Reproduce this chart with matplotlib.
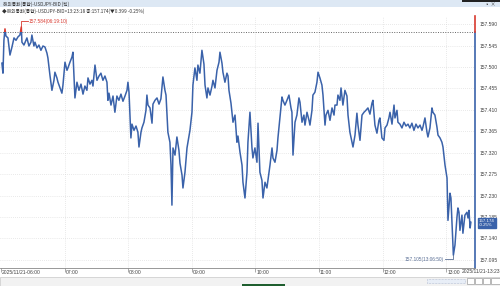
import numpy as np
import matplotlib.pyplot as plt
import matplotlib.transforms as mt
from matplotlib.patches import Rectangle

# tick chart USDJPY BID, time in minutes after 06:00
minutes = [0.9, 1.9, 2.8, 3.8, 4.7, 6.6, 8.5, 10.4, 12.3, 14.2, 16.0, 17.9, 19.2, 19.8, 21.7,
           23.6, 24.5, 26.4, 28.3, 29.2, 31.1, 32.1, 34.0, 35.8, 37.7, 39.6, 41.5, 43.4, 44.3,
           46.2, 48.1, 50.0, 50.9, 52.8, 53.8, 55.7, 57.5, 58.5, 60.4, 62.3, 63.2, 65.1, 67.0,
           67.9, 68.9, 69.8, 71.7, 73.6, 75.5, 77.4, 79.2, 81.1, 82.1, 84.0, 85.8, 86.8, 88.7,
           90.6, 92.5, 94.3, 96.2, 98.1, 100.0, 100.9, 101.9, 103.8, 105.7, 107.5, 109.4, 111.3,
           113.2, 115.1, 117.0, 118.9, 119.8, 120.8, 122.6, 123.6, 125.5, 127.4, 129.2, 130.2,
           132.1, 133.0, 134.9, 136.8, 137.7, 138.7, 140.6, 142.5, 143.4, 145.3, 147.2, 149.1,
           150.9, 152.8, 154.7, 155.7, 157.5, 159.4, 160.4, 161.3, 162.3, 164.2, 166.0, 167.9,
           168.9, 170.8, 171.7, 173.6, 175.5, 176.4, 178.3, 180.2, 181.1, 183.0, 184.9, 185.8,
           187.7, 189.6, 191.5, 192.5, 194.3, 195.3, 197.2, 199.1, 200.0, 201.9, 203.8, 205.7,
           206.6, 208.5, 209.4, 211.3, 213.2, 214.2, 215.1, 217.0, 218.9, 220.8, 222.6, 223.6,
           225.5, 227.4, 228.3, 230.2, 232.1, 233.0, 234.9, 236.8, 237.7, 239.6, 241.5, 242.5,
           244.3, 246.2, 247.2, 249.1, 250.9, 251.9, 253.8, 255.7, 256.6, 258.5, 260.4, 261.3,
           263.2, 265.1, 266.0, 267.9, 269.8, 271.7, 273.6, 274.5, 275.5, 277.4, 279.2, 281.1,
           282.1, 284.0, 285.8, 286.8, 288.7, 290.6, 291.5, 293.4, 294.3, 296.2, 298.1, 299.1,
           300.9, 302.8, 303.8, 305.7, 306.6, 308.5, 310.4, 312.3, 314.2, 315.1, 317.0, 317.9,
           319.8, 320.8, 322.6, 324.5, 326.4, 327.4, 329.2, 331.1, 332.1, 334.0, 335.8, 336.8,
           338.7, 340.6, 342.5, 344.3, 346.2, 348.1, 350.0, 350.9, 352.8, 354.7, 356.6, 357.5,
           359.4, 361.3, 362.3, 364.2, 366.0, 367.0, 368.9, 370.8, 371.7, 373.6, 374.5, 376.4,
           378.3, 380.2, 382.1, 384.0, 385.8, 387.7, 389.6, 391.5, 393.4, 395.3, 397.2, 398.1,
           400.0, 401.9, 402.8, 404.7, 406.6, 407.5, 409.4, 411.3, 412.3, 414.2, 416.0, 417.0,
           418.9, 420.8, 421.7, 423.6, 424.5, 426.4, 426.8, 428.3, 430.2, 431.1, 432.1, 433.0,
           434.9, 435.8, 437.7, 439.6, 440.6, 441.5, 442.6, 443.3]
prices = [157.508, 157.487, 157.556, 157.580, 157.565, 157.561, 157.525, 157.542, 157.561,
          157.556, 157.563, 157.567, 157.584, 157.552, 157.546, 157.556, 157.561, 157.544,
          157.552, 157.567, 157.544, 157.552, 157.540, 157.546, 157.535, 157.544, 157.542,
          157.529, 157.519, 157.483, 157.451, 157.472, 157.489, 157.477, 157.468, 157.456,
          157.445, 157.462, 157.510, 157.493, 157.498, 157.510, 157.521, 157.531, 157.483,
          157.435, 157.468, 157.451, 157.464, 157.443, 157.460, 157.451, 157.477, 157.464,
          157.472, 157.460, 157.504, 157.472, 157.481, 157.487, 157.472, 157.481, 157.468,
          157.430, 157.445, 157.420, 157.439, 157.405, 157.439, 157.430, 157.443, 157.428,
          157.439, 157.451, 157.468, 157.447, 157.351, 157.380, 157.367, 157.376, 157.363,
          157.332, 157.363, 157.372, 157.384, 157.409, 157.441, 157.420, 157.414, 157.382,
          157.422, 157.430, 157.435, 157.422, 157.433, 157.479, 157.451, 157.441, 157.363,
          157.342, 157.294, 157.210, 157.330, 157.315, 157.353, 157.325, 157.298, 157.273,
          157.246, 157.279, 157.330, 157.342, 157.367, 157.405, 157.462, 157.498, 157.472,
          157.504, 157.487, 157.535, 157.506, 157.462, 157.435, 157.456, 157.441, 157.460,
          157.472, 157.456, 157.493, 157.510, 157.531, 157.508, 157.489, 157.468, 157.487,
          157.481, 157.451, 157.424, 157.384, 157.399, 157.342, 157.355, 157.321, 157.294,
          157.258, 157.225, 157.279, 157.342, 157.405, 157.330, 157.309, 157.330, 157.300,
          157.382, 157.279, 157.262, 157.225, 157.258, 157.246, 157.262, 157.294, 157.330,
          157.309, 157.300, 157.325, 157.351, 157.393, 157.437, 157.430, 157.420, 157.430,
          157.441, 157.414, 157.405, 157.315, 157.384, 157.399, 157.435, 157.426, 157.384,
          157.399, 157.378, 157.405, 157.388, 157.378, 157.409, 157.441, 157.447, 157.468,
          157.489, 157.477, 157.462, 157.441, 157.378, 157.399, 157.409, 157.388, 157.414,
          157.399, 157.420, 157.420, 157.441, 157.430, 157.456, 157.420, 157.451, 157.439,
          157.399, 157.363, 157.342, 157.332, 157.357, 157.403, 157.378, 157.346, 157.399,
          157.405, 157.409, 157.414, 157.401, 157.424, 157.430, 157.378, 157.361, 157.388,
          157.393, 157.351, 157.346, 157.372, 157.378, 157.393, 157.405, 157.380, 157.420,
          157.393, 157.409, 157.384, 157.380, 157.372, 157.384, 157.376, 157.380, 157.372,
          157.382, 157.367, 157.380, 157.372, 157.378, 157.367, 157.374, 157.393, 157.363,
          157.353, 157.372, 157.414, 157.405, 157.399, 157.374, 157.357, 157.351, 157.342,
          157.332, 157.294, 157.267, 157.178, 157.235, 157.225, 157.122, 157.105, 157.126,
          157.185, 157.204, 157.195, 157.157, 157.189, 157.151, 157.189, 157.195, 157.183,
          157.199, 157.162, 157.174]

prev_close = 157.573
hi_time, hi_price, hi_label = 19.2, 157.584, "157.584(06:19:10)"
lo_time, lo_price, lo_label = 426.8, 157.105, "157.105(13:06:50)"
last_price = 157.174
last_change = "-0.25%"

y_ticks = [157.095, 157.140, 157.185, 157.230, 157.275, 157.320,
           157.365, 157.410, 157.455, 157.500, 157.545, 157.590]
x_ticks = [0, 60, 120, 180, 240, 300, 360, 420]
x_labels = ["2025/11/21-06:00", "07:00", "08:00", "09:00", "10:00", "11:00", "12:00", "13:00"]
end_label = "2025/11/21-13:23"
title1 = "해외통화(통합)-USDJPY-BID (틱)"
title2 = "◆해외통화(통합)-USDJPY-BID>13:23:18 종:157.174(▼0.399 -0.25%)"

BLUE = "#3a62aa"
RED = "#d8392f"
TXT = "#444444"
plt.rcParams['font.family'] = ['Liberation Sans', 'DejaVu Sans']
KR = ['Noto Sans CJK KR', 'DejaVu Sans']

W, H = 500, 286
fig = plt.figure(figsize=(W / 100, H / 100), dpi=100)
fig.patch.set_facecolor("white")

ax = fig.add_axes([0, 18 / H, 475 / W, 252 / H])
xmin, xmax = -0.9, 447.2
ymin, ymax = 157.078, 157.607
ax.set_xlim(xmin, xmax)
ax.set_ylim(ymin, ymax)

# price line: red above previous close, blue below
lb, = ax.plot(minutes, prices, color=BLUE, lw=1.1, zorder=3)
lr, = ax.plot(minutes, prices, color=RED, lw=1.1, zorder=3)
clip_b = Rectangle((xmin, ymin), xmax - xmin, prev_close - ymin, transform=ax.transData)
clip_r = Rectangle((xmin, prev_close), xmax - xmin, ymax - prev_close, transform=ax.transData)
lb.set_clip_path(clip_b)
lr.set_clip_path(clip_r)

ax.axhline(prev_close, color="#666666", lw=0.7, ls=(0, (1, 1.5)), zorder=2)

# grid
for t in y_ticks:
    ax.axhline(t, color="#d4d4d4", lw=0.5, ls=(0, (1, 2)), zorder=1)
for t in x_ticks[1:]:
    ax.axvline(t, color="#d4d4d4", lw=0.5, ls=(0, (1, 2)), zorder=1)

for s in ["top", "left", "right"]:
    ax.spines[s].set_visible(False)
ax.spines["bottom"].set_color("#888888")
ax.spines["bottom"].set_linewidth(0.6)
ax.plot([1, 1], [ymin, prev_close], transform=ax.get_yaxis_transform(), color=BLUE, lw=1.2, clip_on=False)
ax.plot([1, 1], [prev_close, ymax], transform=ax.get_yaxis_transform(), color=RED, lw=1.2, clip_on=False)

ax.yaxis.tick_right()
ax.set_yticks(y_ticks)
ax.set_yticklabels([f"{t:.3f}" for t in y_ticks], fontsize=3.6, color=TXT)
ax.tick_params(axis="y", length=0, pad=3)
ax.set_xticks(x_ticks)
ax.set_xticklabels(x_labels, fontsize=3.6, color=TXT, ha="left")
ax.tick_params(axis="x", length=3, width=0.5, color="#888888", pad=-1.6)
off = mt.ScaledTranslation(1 / 100, 0, fig.dpi_scale_trans)
for lab in ax.get_xticklabels():
    lab.set_transform(lab.get_transform() + off)

# high / low markers
ax.plot([hi_time, hi_time, hi_time + 6], [hi_price, hi_price + 0.012, hi_price + 0.012],
        color=RED, lw=0.6, zorder=4)
ax.text(hi_time + 7, hi_price + 0.012, hi_label, color=RED, fontsize=3.4, va="center", ha="left")
ax.plot([lo_time, lo_time, lo_time - 8], [lo_price, lo_price - 0.009, lo_price - 0.009],
        color="#5a6f95", lw=0.6, zorder=4)
ax.text(lo_time - 9, lo_price - 0.009, lo_label, color="#5a6f95", fontsize=3.4, va="center", ha="right")

# current price box on the axis
ax.text(1.008, last_price - 0.002, f"{last_price:.3f}\n{last_change}", transform=ax.get_yaxis_transform(),
        fontsize=3.2, color="white", va="center", ha="left", linespacing=0.9, zorder=5,
        bbox=dict(boxstyle="square,pad=0.25", fc=BLUE, ec=BLUE), clip_on=False)

fig.text(462 / W, 1 - 271.5 / H, end_label, fontsize=3.6, color=TXT, ha="left", va="center")

# header
fig.patches.append(Rectangle((0, 1 - 7 / H), 1, 7 / H, transform=fig.transFigure,
                             fc="#dde8f4", ec="none"))
fig.patches.append(Rectangle((462 / W, 1 - 2 / H), 38 / W, 2 / H, transform=fig.transFigure,
                             fc="#222222", ec="none"))
fig.text(3 / W, 1 - 4 / H, title1, fontsize=3.4, color="#333333", family=KR, va="center")
fig.text(2 / W, 1 - 11.5 / H, title2, fontsize=3.4, color="#333333", family=KR, va="center")
fig.text(490 / W, 1 - 4 / H, "▫ ×", fontsize=3.4, color="#333333", family=KR, va="center", ha="center")

# bottom scroll bar
fig.patches.append(Rectangle((0, 0), 1, 9 / H, transform=fig.transFigure, fc="#f2f2f2", ec="#c8c8c8", lw=0.5))
fig.patches.append(Rectangle((427 / W, 3 / H), 38 / W, 4 / H, transform=fig.transFigure,
                             fc="#e8eef7", ec="#8899bb", lw=0.4, ls=":"))
for bx in [467, 475, 483]:
    fig.patches.append(Rectangle((bx / W, 2 / H), 7 / W, 6 / H, transform=fig.transFigure,
                                 fc="#ffffff", ec="#888888", lw=0.4))
fig.patches.append(Rectangle((491 / W, 2 / H), 9 / W, 6 / H, transform=fig.transFigure,
                             fc="#ffffff", ec="#888888", lw=0.4))
fig.patches.append(Rectangle((242 / W, 0), 43 / W, 2 / H, transform=fig.transFigure,
                             fc="#1f5f2f", ec="none"))

fig.savefig("out.png", dpi=100)
